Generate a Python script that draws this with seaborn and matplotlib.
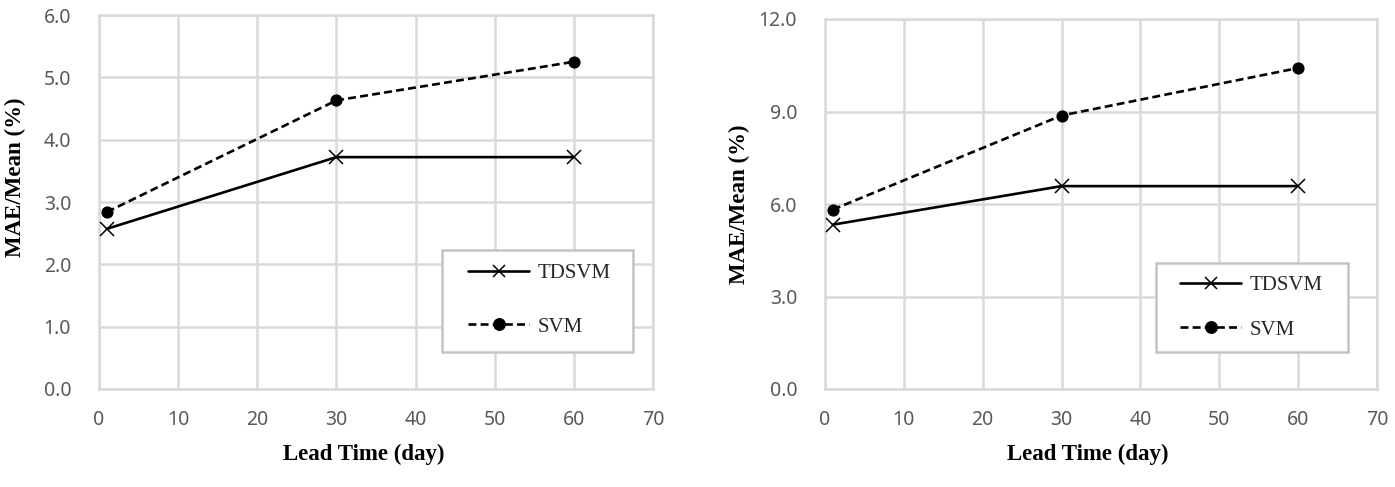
import matplotlib
matplotlib.use("Agg")
import matplotlib.pyplot as plt
from matplotlib.patches import Rectangle
import seaborn as sns
import pandas as pd

lead_time = [1, 30, 60]
left_tdsvm = [2.57, 3.72, 3.72]
left_svm = [2.84, 4.63, 5.25]
right_tdsvm = [5.33, 6.58, 6.58]
right_svm = [5.82, 8.87, 10.41]
x_ticks = [0, 10, 20, 30, 40, 50, 60, 70]
left_yticks = [0.0, 1.0, 2.0, 3.0, 4.0, 5.0, 6.0]
right_yticks = [0.0, 3.0, 6.0, 9.0, 12.0]
series_names = ["TDSVM", "SVM"]

sns.set_style("white")
plt.rcParams['font.family'] = ['Noto Sans', 'DejaVu Sans']

W, H = 1395, 487
fig = plt.figure(figsize=(W / 100, H / 100), dpi=100)
ax1 = fig.add_axes([99 / W, 1 - 389 / H, 554 / W, 374 / H])
ax2 = fig.add_axes([825 / W, 1 - 389 / H, 552 / W, 370 / H])

grid_c = "#d9d9d9"
tick_c = "#595959"


def draw(ax, td, sv, yticks, ylab_xy, xlab_xy, box, leg_anchor, labelspacing):
    df_td = pd.DataFrame({"x": lead_time, "y": td})
    df_sv = pd.DataFrame({"x": lead_time, "y": sv})
    sns.lineplot(data=df_td, x="x", y="y", ax=ax, color="black", lw=1.9,
                 marker="x", markersize=10.5, markeredgewidth=1.1,
                 markeredgecolor="black", label=series_names[0], zorder=3)
    sns.lineplot(data=df_sv, x="x", y="y", ax=ax, color="black", lw=1.9,
                 linestyle=(0, (3.0, 1.6)), marker="o", markersize=8,
                 markeredgecolor="black", label=series_names[1], zorder=3)
    ax.set_xlim(0, 70)
    ax.set_ylim(yticks[0], yticks[-1])
    ax.set_xticks(x_ticks)
    ax.set_yticks(yticks)
    ax.set_yticklabels([f"{v:.1f}" for v in yticks])
    ax.grid(True, color=grid_c, lw=1.8)
    ax.set_axisbelow(True)
    for s in ax.spines.values():
        s.set_color(grid_c)
        s.set_linewidth(1.8)
    ax.tick_params(axis="both", length=0, colors=tick_c, labelsize=14)
    ax.tick_params(axis="y", pad=20)
    ax.tick_params(axis="x", pad=15)
    ax.set_xlabel("Lead Time (day)", family="Liberation Serif", fontweight="bold",
                  fontsize=16.5, color="black")
    ax.set_ylabel("MAE/Mean (%)", family="Liberation Serif", fontweight="bold",
                  fontsize=16.5, color="black")
    ax.yaxis.set_label_coords(*ylab_xy)
    ax.xaxis.set_label_coords(*xlab_xy)
    ax.add_patch(Rectangle(box[:2], box[2], box[3], transform=ax.transAxes,
                           facecolor="white", edgecolor="#c4c4c4", lw=1.8,
                           zorder=4, clip_on=False))
    leg = ax.legend(loc="center left", bbox_to_anchor=leg_anchor,
                    frameon=False, prop={"family": "Liberation Serif", "size": 15},
                    handlelength=2.95, labelspacing=labelspacing, borderpad=0,
                    handletextpad=0.4, borderaxespad=0)
    leg.set_zorder(5)
    for h in leg.legend_handles:
        h.set_markersize(8.5)


draw(ax1, left_tdsvm, left_svm, left_yticks,
     (-0.132, 0.567), (0.478, -0.147),
     (0.619, 0.099, 0.345, 0.273), (0.666, 0.238), 1.63)
draw(ax2, right_tdsvm, right_svm, right_yticks,
     (-0.135, 0.5), (0.476, -0.148),
     (0.600, 0.100, 0.348, 0.241), (0.643, 0.220), 1.2)

fig.savefig("out.png", dpi=100)
